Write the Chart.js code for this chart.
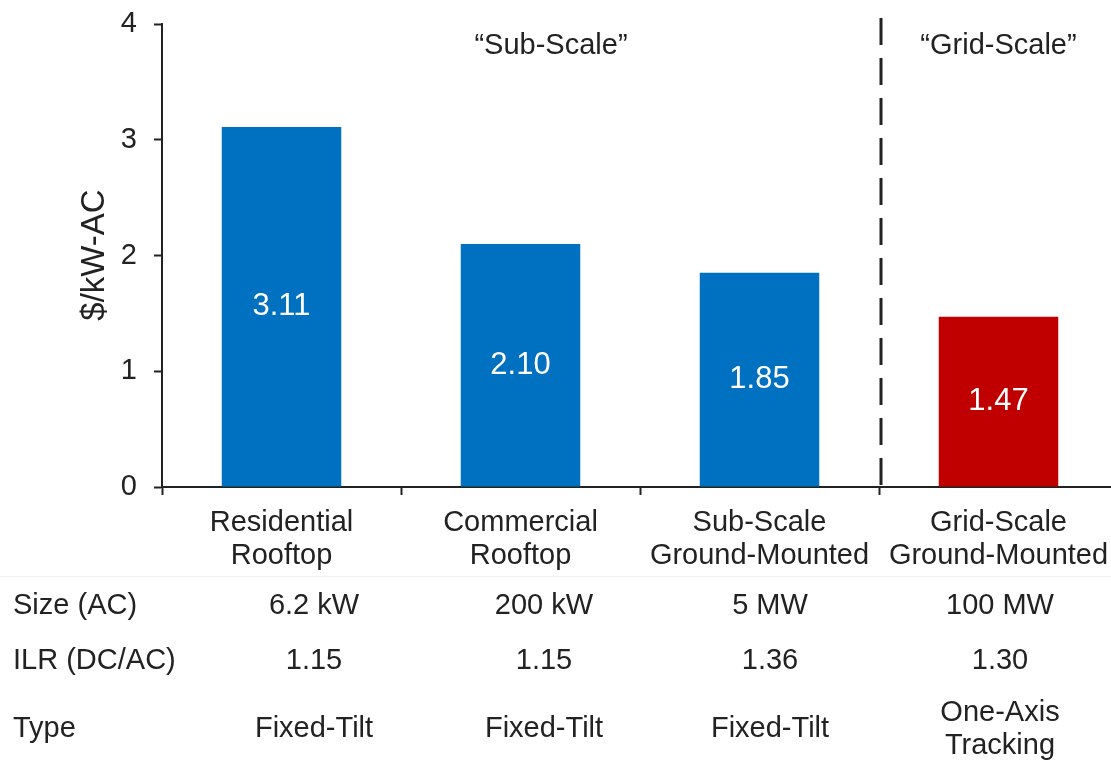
<!DOCTYPE html>
<html>
<head>
<meta charset="utf-8">
<title>Installed cost by system type</title>
<script src="https://cdn.jsdelivr.net/npm/chart.js@4.4.0/dist/chart.umd.min.js"></script>
<style>
    html, body { margin: 0; padding: 0; background: #fff; overflow: hidden; }
    #wrap { position: relative; width: 1118px; height: 761px; }
</style>
</head>
<body>
<div id="wrap"><canvas id="cost-chart" width="1118" height="761"></canvas></div>
<script>
// Chart data
const categories = [
    ['Residential', 'Rooftop'],
    ['Commercial', 'Rooftop'],
    ['Sub-Scale', 'Ground-Mounted'],
    ['Grid-Scale', 'Ground-Mounted']
];
const costValues = [3.11, 2.10, 1.85, 1.47];
const barColors = ['#0070C0', '#0070C0', '#0070C0', '#C00000'];
const yTicks = [0, 1, 2, 3, 4];
const groupLabels = ['\u201CSub-Scale\u201D', '\u201CGrid-Scale\u201D'];
const rowLabels = ['Size (AC)', 'ILR (DC/AC)', 'Type'];
const sizeRow = ['6.2 kW', '200 kW', '5 MW', '100 MW'];
const ilrRow = ['1.15', '1.15', '1.36', '1.30'];
const typeRow = [['Fixed-Tilt'], ['Fixed-Tilt'], ['Fixed-Tilt'], ['One-Axis', 'Tracking']];

// Layout bits (not data)
const FONT = '"Liberation Sans", Arial, sans-serif';
const TEXT = '#222222';
const FS = 29;
const tableCols = [314, 544, 770, 1000];
const tableRowsY = [606, 661, 729];

Chart.defaults.font.family = FONT;
Chart.defaults.color = TEXT;

// Draws the value labels, divider, group titles, axis title and the table underneath
const extrasPlugin = {
    id: 'extras',
    afterDatasetsDraw(chart) {
        const ctx = chart.ctx;
        const area = chart.chartArea;
        const xScale = chart.scales.x;

        // values inside the bars
        ctx.save();
        ctx.fillStyle = '#ffffff';
        ctx.font = '31px ' + FONT;
        ctx.textAlign = 'center';
        ctx.textBaseline = 'middle';
        chart.getDatasetMeta(0).data.forEach(function(bar, i) {
            ctx.fillText(costValues[i].toFixed(2), bar.x, (bar.y + bar.base) / 2);
        });
        ctx.restore();

        // dashed divider between sub-scale and grid-scale
        const divX = (xScale.getPixelForValue(2) + xScale.getPixelForValue(3)) / 2 + 2;
        ctx.save();
        ctx.strokeStyle = TEXT;
        ctx.lineWidth = 3;
        ctx.setLineDash([27, 13]);
        ctx.beginPath();
        ctx.moveTo(divX, 18);
        ctx.lineTo(divX, area.bottom);
        ctx.stroke();
        ctx.restore();

        ctx.save();
        ctx.fillStyle = TEXT;
        ctx.font = FS + 'px ' + FONT;
        ctx.textAlign = 'center';
        ctx.textBaseline = 'middle';
        ctx.fillText(groupLabels[0], 551, 46);
        ctx.fillText(groupLabels[1], xScale.getPixelForValue(3), 46);

        // y axis title
        ctx.save();
        ctx.translate(95, 255);
        ctx.rotate(-Math.PI / 2);
        ctx.font = '33px ' + FONT;
        ctx.fillText('$/kW-AC', 0, 0);
        ctx.restore();

        // faint separator above the table
        ctx.fillStyle = '#f2f2f2';
        ctx.fillRect(0, 576, chart.width, 1);

        // table rows
        ctx.fillStyle = TEXT;
        ctx.textAlign = 'left';
        rowLabels.forEach(function(label, r) {
            ctx.fillText(label, 13, tableRowsY[r]);
        });
        ctx.textAlign = 'center';
        tableCols.forEach(function(x, c) {
            ctx.fillText(sizeRow[c], x, tableRowsY[0]);
            ctx.fillText(ilrRow[c], x, tableRowsY[1]);
            const lines = typeRow[c];
            const lh = 33;
            const startY = tableRowsY[2] - (lines.length - 1) * lh / 2;
            lines.forEach(function(line, k) {
                ctx.fillText(line, x, startY + k * lh);
            });
        });
        ctx.restore();
    }
};

document.addEventListener('DOMContentLoaded', function() {
    const canvas = document.getElementById('cost-chart');

    new Chart(canvas, {
        type: 'bar',
        data: {
            labels: categories,
            datasets: [{
                data: costValues,
                backgroundColor: barColors,
                borderWidth: 0,
                barPercentage: 0.5,
                categoryPercentage: 1.0
            }]
        },
        options: {
            responsive: false,
            animation: false,
            layout: {
                padding: { top: 24, left: 0, right: 0, bottom: 0 }
            },
            plugins: {
                legend: { display: false },
                tooltip: { enabled: false }
            },
            scales: {
                x: {
                    afterFit: function(scale) {
                        scale.height = 274;
                        scale.paddingLeft = 0;
                        scale.paddingRight = 0;
                    },
                    grid: {
                        offset: true,
                        drawOnChartArea: false,
                        drawTicks: true,
                        tickLength: 8,
                        tickWidth: 2,
                        tickColor: TEXT
                    },
                    border: { display: true, color: TEXT, width: 2 },
                    ticks: {
                        color: TEXT,
                        font: { size: FS, lineHeight: 1.15 },
                        padding: 11,
                        maxRotation: 0,
                        autoSkip: false
                    }
                },
                y: {
                    min: yTicks[0],
                    max: yTicks[yTicks.length - 1],
                    afterFit: function(scale) {
                        scale.width = 162;
                        scale.paddingTop = 0;
                        scale.paddingBottom = 0;
                    },
                    afterBuildTicks: function(scale) {
                        scale.ticks = yTicks.map(function(v) { return { value: v }; });
                    },
                    grid: {
                        drawOnChartArea: false,
                        drawTicks: true,
                        tickLength: 8,
                        tickWidth: 2,
                        tickColor: TEXT
                    },
                    border: { display: true, color: TEXT, width: 2 },
                    ticks: {
                        color: TEXT,
                        font: { size: FS },
                        padding: 17
                    }
                }
            }
        },
        plugins: [extrasPlugin]
    });
});
</script>
</body>
</html>
